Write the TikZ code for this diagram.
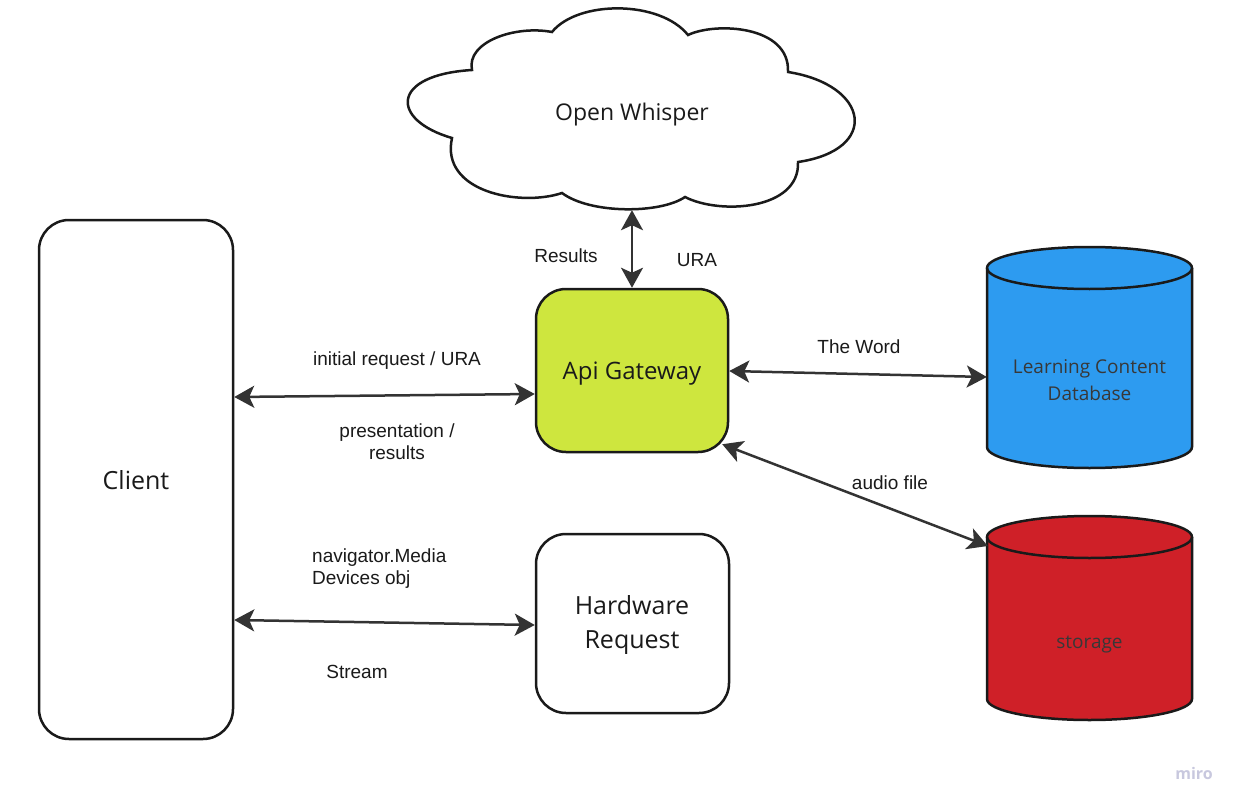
\documentclass[tikz,border=0pt]{standalone}
\usepackage{fontspec}
\setmainfont{Open Sans}
\newfontfamily\lab{Liberation Sans}
\usetikzlibrary{arrows.meta}
\definecolor{gwfill}{RGB}{206,230,62}
\definecolor{dbblue}{RGB}{45,155,240}
\definecolor{dbred}{RGB}{207,32,40}
\definecolor{conn}{RGB}{51,51,51}
\definecolor{edge}{RGB}{26,26,26}
\definecolor{mirocol}{RGB}{200,200,222}
\tikzset{
  box/.style={draw=edge, line width=2.5pt, rounded corners=30pt, inner sep=0pt},
  bigtxt/.style={font=\fontsize{25}{34}\selectfont, text=edge, align=center},
  lbl/.style={font=\lab\fontsize{19}{22}\selectfont, text=edge, inner sep=0pt},
  conline/.style={draw=conn, line width=2.5pt,
    {Stealth[length=20pt,width=22pt,inset=5pt]}-{Stealth[length=20pt,width=22pt,inset=5pt]}},
  cylline/.style={draw=edge, line width=2.5pt},
  hole/.style={inner sep=0pt, minimum width=#1},
}
\begin{document}
\begin{tikzpicture}[x=1pt,y=-1pt]
\useasboundingbox[fill=white] (0,0) rectangle (1241,805);

% cloud outline
\draw[cylline, fill=white]
  (472,70) .. controls (466,42) and (515,25) .. (552,32)
  .. controls (578,0) and (660,0) .. (688,35)
  .. controls (715,22) and (790,25) .. (788,72)
  .. controls (870,85) and (880,150) .. (798,162)
  .. controls (800,210) and (720,215) .. (685,197)
  .. controls (660,214) and (590,214) .. (562,193)
  .. controls (520,207) and (440,192) .. (452,138)
  .. controls (390,120) and (390,75) .. (472,70) -- cycle;
\node[inner sep=0pt, minimum width=448pt, minimum height=202pt] (cloud) at (632,109) {};
\node[font=\fontsize{23}{28}\selectfont, text=edge] (cloudtxt) at (632,114.5) {Open Whisper};

% boxes
\node[box, fill=white, minimum width=194pt, minimum height=519pt] (client) at (136,479.5) {};
\node[bigtxt] (clienttxt) at (136,480.5) {Client};
\node[box, fill=gwfill, minimum width=192pt, minimum height=163pt] (api) at (632,370.5) {};
\node[font=\fontsize{24}{30}\selectfont, text=edge] (apitxt) at (632,373.5) {Api Gateway};
\node[box, fill=white, minimum width=193pt, minimum height=179pt] (hw) at (632.5,623.5) {};
\node[bigtxt] (hwtxt) at (632,624.5) {Hardware\\Request};

% learning content database cylinder
\path[fill=dbblue] (987,268) -- (987,447)
  arc[start angle=180, end angle=360, x radius=102.5pt, y radius=21pt]
  -- (1192,268)
  arc[start angle=0, end angle=180, x radius=102.5pt, y radius=21pt] -- cycle;
\draw[cylline] (987,268) -- (987,447)
  arc[start angle=180, end angle=360, x radius=102.5pt, y radius=21pt]
  -- (1192,268);
\draw[cylline] (1089.5,268) ellipse[x radius=102.5pt, y radius=21pt];
\node[hole=205pt, minimum height=221pt] (lcd) at (1089.5,357.5) {};
\node[font=\fontsize{19}{27}\selectfont, text=black!78, align=center] (lcdtxt) at (1089.5,380) {Learning Content\\Database};

% storage cylinder
\path[fill=dbred] (987,537) -- (987,699)
  arc[start angle=180, end angle=360, x radius=102.5pt, y radius=21pt]
  -- (1192,537)
  arc[start angle=0, end angle=180, x radius=102.5pt, y radius=21pt] -- cycle;
\draw[cylline] (987,537) -- (987,699)
  arc[start angle=180, end angle=360, x radius=102.5pt, y radius=21pt]
  -- (1192,537);
\draw[cylline] (1089.5,537) ellipse[x radius=102.5pt, y radius=21pt];
\node[hole=205pt, minimum height=204pt] (stor) at (1089.5,618) {};
\node[font=\fontsize{19}{24}\selectfont, text=black!78] (stortxt) at (1089.5,644.5) {storage};

% connectors
\draw[conline] (api.north) -- (cloud.south);
\draw[conline] ([yshift=82.5pt]client.east) -- ([yshift=-23.5pt]api.west);
\draw[conline] ([yshift=-140.5pt]client.east) -- ([yshift=-1.5pt]hw.west);
\draw[conline] ([yshift=-0.5pt]api.east) -- ([yshift=-19.5pt]lcd.west);
\draw[conline] ([xshift=-7pt,yshift=9pt]api.south east) -- ([xshift=1pt,yshift=72pt]stor.west);

% labels
\node[lbl] (l1) at (566,256) {Results};
\node[lbl] (l2) at (697,260) {URA};
\node[lbl] (l3) at (397,361) {initial request / URA};
\node[lbl, align=center] (l4) at (397,442) {presentation /\\results};
\node[lbl] (l5) at (859,347) {The Word};
\node[lbl] (l6) at (890,483) {audio file};
\node[lbl, align=left, anchor=west] (l7) at (312,569) {navigator.Media\\Devices obj};
\node[lbl] (l8) at (357,672) {Stream};
\node[font=\bfseries\fontsize{16}{20}\selectfont, text=mirocol] (miro) at (1194,773) {miro};
\end{tikzpicture}
\end{document}
